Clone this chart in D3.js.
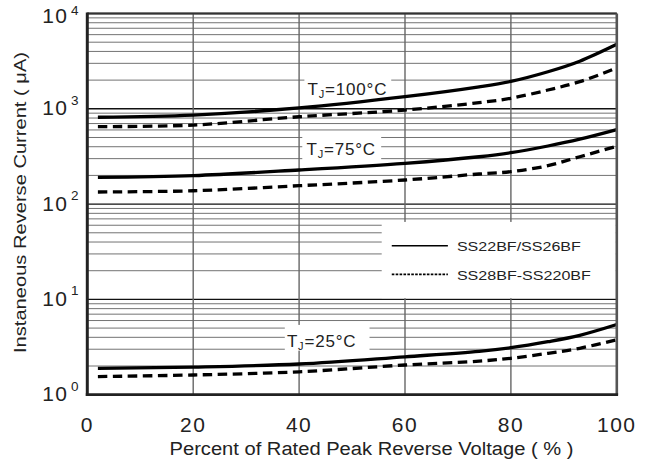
<!DOCTYPE html>
<html><head><meta charset="utf-8">
<script src="https://cdn.jsdelivr.net/npm/d3@7"></script>
<style>
body{margin:0;background:#fff}
text{font-family:"Liberation Sans",Arial,sans-serif;fill:#222}
</style>
</head><body>
<svg id="c" width="652" height="463"></svg>
<script>
// ---- data ----
const pct       = [2, 20, 40, 60, 74, 80, 87, 93, 100];
const solid100  = [815, 860, 1020, 1340, 1700, 1940, 2450, 3160, 4750];
const dashed100 = [650, 675, 825, 970, 1160, 1290, 1575, 1925, 2680];
const solid75   = [191, 199, 228, 268, 314, 346, 407, 480, 605];
const dashed75  = [134, 138, 156, 179, 207, 219, 253, 314, 405];
const solid25   = [1.89, 1.95, 2.1, 2.5, 2.85, 3.11, 3.6, 4.2, 5.45];
const dashed25  = [1.55, 1.61, 1.74, 2.05, 2.25, 2.41, 2.72, 3.07, 3.78];
const xTicks    = [0, 20, 40, 60, 80, 100];
const yExponents= [0, 1, 2, 3, 4];
const legendLabels = ["SS22BF/SS26BF", "SS28BF-SS220BF"];
const tempLabels   = ["100", "75", "25"];
const xTitle = "Percent of Rated Peak Reverse Voltage ( % )";
const yTitle = "Instaneous Reverse Current ( μA)";

// ---- layout ----
const L = 87.3, R = 616.8, T = 13.5, B = 394.7;
const svg = d3.select("#c");
const x = d3.scaleLinear().domain([0, 100]).range([L, R]);
const y = d3.scaleLog().domain([1, 1e4]).range([B, T]);

// minor horizontal grid
const minor = [];
yExponents.slice(0, -1).forEach(e => { for (let m = 2; m <= 9; m++) minor.push(m * Math.pow(10, e)); });
svg.append("g").selectAll("line").data(minor).join("line")
  .attr("x1", L).attr("x2", R).attr("y1", d => y(d)).attr("y2", d => y(d))
  .attr("stroke", "#737373").attr("stroke-width", 1);
// decade lines
svg.append("g").selectAll("line").data(yExponents).join("line")
  .attr("x1", L).attr("x2", R).attr("y1", d => y(Math.pow(10, d))).attr("y2", d => y(Math.pow(10, d)))
  .attr("stroke", "#111").attr("stroke-width", 1.4);
// vertical grid
svg.append("g").selectAll("line").data(xTicks.slice(1, -1)).join("line")
  .attr("x1", d => x(d)).attr("x2", d => x(d)).attr("y1", T).attr("y2", B)
  .attr("stroke", "#666").attr("stroke-width", 1.4);

function labelBox(px0, px1, py0, py1) {
  svg.append("rect").attr("x", px0).attr("y", py0).attr("width", px1 - px0).attr("height", py1 - py0).attr("fill", "#fff");
}
function tempText(px, py, temp) {
  const t = svg.append("text").attr("x", px).attr("y", py).attr("font-size", 17).attr("letter-spacing", 0.8);
  t.append("tspan").text("T");
  t.append("tspan").attr("font-size", 11).attr("dy", 3).text("J");
  t.append("tspan").attr("dy", -3).text("=" + temp + "°C");
}
// white label boxes (data coordinates)
labelBox(x(41.0), x(57.4), y(2300), y(1250));
labelBox(x(40.6), x(55.5), y(520), y(275));
labelBox(x(37.3), x(53.3), y(5.4), y(2.9));
// legend box
labelBox(x(55.6), R - 1, y(65), y(10.3));

// curves
const line = d3.line().x((d, i) => x(pct[i])).y(d => y(d)).curve(d3.curveCatmullRom.alpha(0.5));
const series = [
  {v: solid100, dash: null}, {v: dashed100, dash: "9.5,5.5"},
  {v: solid75, dash: null},  {v: dashed75, dash: "9.5,5.5"},
  {v: solid25, dash: null},  {v: dashed25, dash: "9.5,5.5"}
];
svg.append("g").selectAll("path").data(series).join("path")
  .attr("d", d => line(d.v)).attr("fill", "none").attr("stroke", "#000")
  .attr("stroke-width", 3.3).attr("stroke-dasharray", d => d.dash);

// temperature labels
tempText(x(41.6), y(1230) - 5, tempLabels[0]);
tempText(x(41.4), y(280) - 6.3, tempLabels[1]);
tempText(x(37.7), y(3.2) + 0.5, tempLabels[2]);

// frame
svg.append("line").attr("x1", L).attr("x2", R).attr("y1", T).attr("y2", T).attr("stroke", "#333").attr("stroke-width", 2.2);
svg.append("line").attr("x1", R).attr("x2", R).attr("y1", T).attr("y2", B).attr("stroke", "#555").attr("stroke-width", 2.6);
svg.append("line").attr("x1", L).attr("x2", L).attr("y1", T - 1).attr("y2", B + 1.3).attr("stroke", "#222").attr("stroke-width", 3);
svg.append("line").attr("x1", L - 1.5).attr("x2", R + 1.3).attr("y1", B).attr("y2", B).attr("stroke", "#222").attr("stroke-width", 2.8);

// legend
const ly = [y(36.5), y(18.3)];
legendLabels.forEach((lab, i) => {
  svg.append("line").attr("x1", x(57.5)).attr("x2", x(68.1)).attr("y1", ly[i]).attr("y2", ly[i])
    .attr("stroke", "#000").attr("stroke-width", 1.6).attr("stroke-dasharray", i ? "2.6,1.3" : null);
  svg.append("text").attr("x", x(69.8)).attr("y", ly[i] + 5.5).attr("font-size", 13)
    .attr("textLength", i ? 134 : 124).attr("lengthAdjust", "spacingAndGlyphs").text(lab);
});

// x ticks
svg.append("g").selectAll("text").data(xTicks).join("text")
  .attr("x", d => x(d)).attr("y", 432).attr("text-anchor", "middle").attr("font-size", 21)
  .attr("letter-spacing", 1.5).text(d => d);

// y ticks
yExponents.forEach(e => {
  const yy = y(Math.pow(10, e));
  svg.append("text").attr("x", 68.5).attr("y", Math.max(yy + 6.5, 22.5)).attr("text-anchor", "end").attr("font-size", 21)
    .attr("letter-spacing", 1.5).text("10");
  svg.append("text").attr("x", 71).attr("y", Math.max(yy - 4, 14.5)).attr("font-size", 13.5).text(e);
});

// axis titles
svg.append("text").attr("x", 169.5).attr("y", 455).attr("font-size", 18)
  .attr("textLength", 404).attr("lengthAdjust", "spacingAndGlyphs").text(xTitle);
svg.append("text").attr("transform", "translate(25.5,353) rotate(-90)").attr("font-size", 16.5)
  .attr("textLength", 301).attr("lengthAdjust", "spacingAndGlyphs").text(yTitle);
</script>
</body></html>
